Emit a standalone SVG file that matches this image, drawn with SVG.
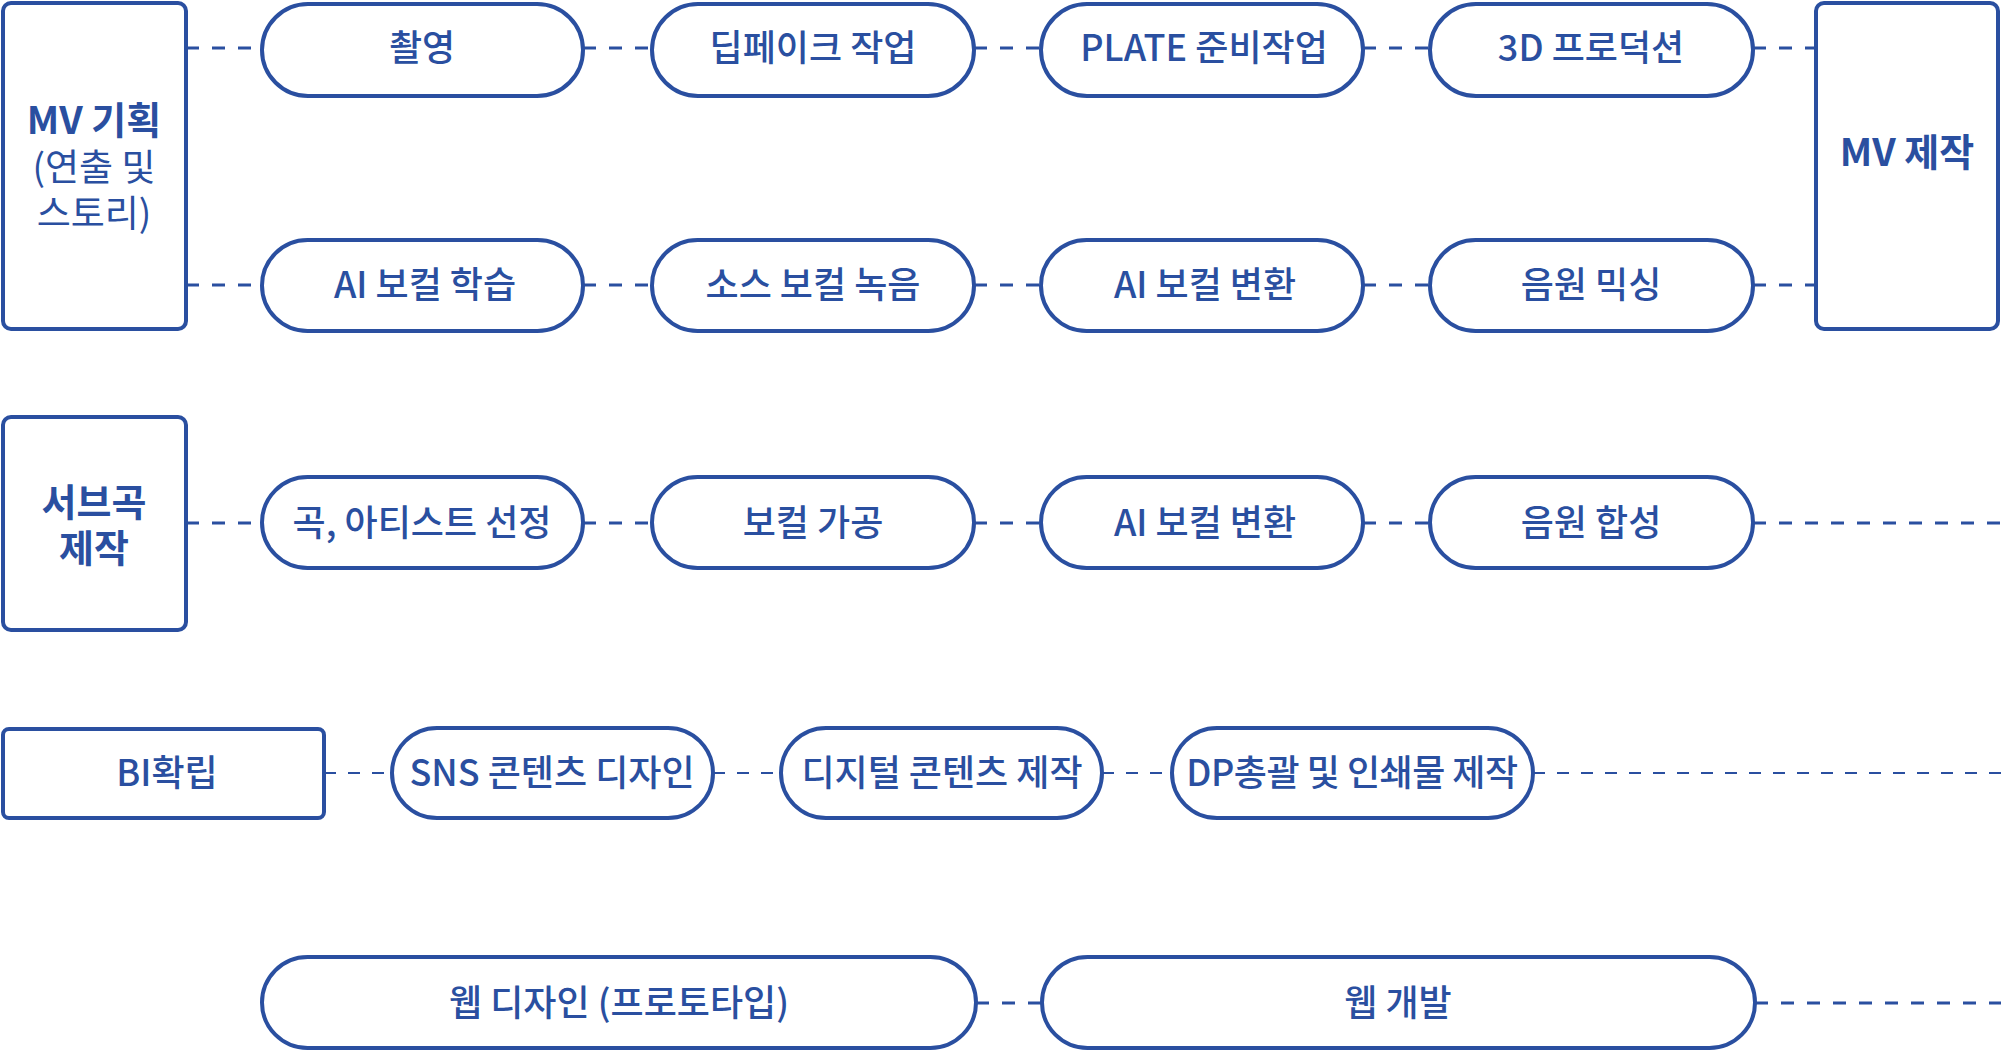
<svg xmlns="http://www.w3.org/2000/svg" width="2001" height="1051" viewBox="0 0 2001 1051">
<style>
.box{fill:#fff;stroke:#2a4fa0;stroke-width:4}
.t{font-family:"Noto Sans CJK KR","Noto Sans",sans-serif;font-size:36px;font-weight:500;fill:#2a4fa0;text-anchor:middle}
.h{font-weight:700;font-size:38px}
.r{font-weight:400;font-size:37px}
.c{fill:none;stroke:#2a4fa0;stroke-width:3;stroke-dasharray:13 13}
.c2{fill:none;stroke:#2a4fa0;stroke-width:2;stroke-dasharray:12 12}
</style>
<rect width="2001" height="1051" fill="#fff"/>
<g id="connectors">
<path class="c" d="M186 48H262M583 48H652M974 48H1041M1363 48H1430M1753 48H1816"/>
<path class="c" d="M186 285H262M583 285H652M974 285H1041M1363 285H1430M1753 285H1816"/>
<path class="c" d="M186 523H262M583 523H652M974 523H1041M1363 523H1430M1753 523H2001"/>
<path class="c2" d="M324 773H392M713 773H781M1102 773H1172M1533 773H2001"/>
<path class="c" d="M976 1003H1042M1755 1003H2001"/>
</g>
<g id="mv-plan"><rect class="box" x="3" y="3" width="183" height="326" rx="8"/>
<text class="t" x="94" y="134"><tspan class="h" x="94">MV 기획</tspan><tspan class="r" x="94" dy="47">(연출 및</tspan><tspan class="r" x="94" dy="46">스토리)</tspan></text></g>
<g id="mv-make"><rect class="box" x="1816" y="3" width="182" height="326" rx="8"/>
<text class="t h" x="1907" y="166">MV 제작</text></g>
<g id="sub-song"><rect class="box" x="3" y="417" width="183" height="213" rx="8"/>
<text class="t h" x="94" y="516"><tspan x="94">서브곡</tspan><tspan x="94" dy="46">제작</tspan></text></g>
<g id="bi"><rect class="box" x="3" y="729" width="321" height="89" rx="6"/>
<text class="t" x="167" y="786">BI확립</text></g>

<g id="n-shoot"><rect class="box" x="262" y="4" width="321" height="92" rx="46"/><text class="t" x="422" y="61">촬영</text></g>
<g id="n-deepfake"><rect class="box" x="652" y="4" width="322" height="92" rx="46"/><text class="t" x="813" y="61">딥페이크 작업</text></g>
<g id="n-plate"><rect class="box" x="1041" y="4" width="322" height="92" rx="46"/><text class="t" x="1204" y="61">PLATE 준비작업</text></g>
<g id="n-3d"><rect class="box" x="1430" y="4" width="323" height="92" rx="46"/><text class="t" x="1591" y="61">3D 프로덕션</text></g>

<g id="n-ai-learn"><rect class="box" x="262" y="240" width="321" height="91" rx="45.5"/><text class="t" x="425" y="298">AI 보컬 학습</text></g>
<g id="n-src-rec"><rect class="box" x="652" y="240" width="322" height="91" rx="45.5"/><text class="t" x="813" y="298">소스 보컬 녹음</text></g>
<g id="n-ai-conv1"><rect class="box" x="1041" y="240" width="322" height="91" rx="45.5"/><text class="t" x="1205" y="298">AI 보컬 변환</text></g>
<g id="n-mix"><rect class="box" x="1430" y="240" width="323" height="91" rx="45.5"/><text class="t" x="1591" y="298">음원 믹싱</text></g>

<g id="n-select"><rect class="box" x="262" y="477" width="321" height="91" rx="45.5"/><text class="t" x="422" y="536">곡, 아티스트 선정</text></g>
<g id="n-vocal-proc"><rect class="box" x="652" y="477" width="322" height="91" rx="45.5"/><text class="t" x="813" y="536">보컬 가공</text></g>
<g id="n-ai-conv2"><rect class="box" x="1041" y="477" width="322" height="91" rx="45.5"/><text class="t" x="1205" y="536">AI 보컬 변환</text></g>
<g id="n-synth"><rect class="box" x="1430" y="477" width="323" height="91" rx="45.5"/><text class="t" x="1591" y="536">음원 합성</text></g>

<g id="n-sns"><rect class="box" x="392" y="728" width="321" height="90" rx="45"/><text class="t" x="552" y="786">SNS 콘텐츠 디자인</text></g>
<g id="n-digital"><rect class="box" x="781" y="728" width="321" height="90" rx="45"/><text class="t" x="942" y="786">디지털 콘텐츠 제작</text></g>
<g id="n-dp"><rect class="box" x="1172" y="728" width="361" height="90" rx="45"/><text class="t" x="1352" y="786" letter-spacing="-0.5">DP총괄 및 인쇄물 제작</text></g>

<g id="n-webdesign"><rect class="box" x="262" y="957" width="714" height="91" rx="45.5"/><text class="t" x="619" y="1016">웹 디자인 (프로토타입)</text></g>
<g id="n-webdev"><rect class="box" x="1042" y="957" width="713" height="91" rx="45.5"/><text class="t" x="1398" y="1016">웹 개발</text></g>
</svg>
